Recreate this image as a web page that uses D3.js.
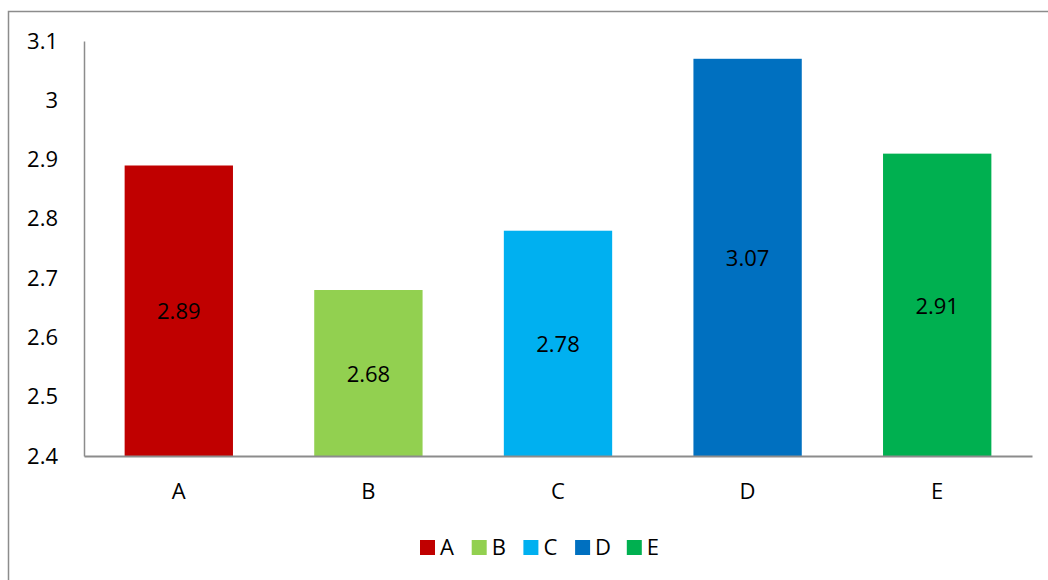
<!DOCTYPE html>
<html>
<head>
<meta charset="utf-8">
<script src="https://cdn.jsdelivr.net/npm/d3@7"></script>
<style>
  html, body { margin: 0; padding: 0; background: #fff; }
  svg { display: block; }
  text { font-family: "Open Sans", "Noto Sans", sans-serif; fill: #000; }
</style>
</head>
<body>
<div id="chart"></div>
<script>
// Chart data
const categories = ["A", "B", "C", "D", "E"];
const values = [2.89, 2.68, 2.78, 3.07, 2.91];
const colors = ["#C00000", "#92D050", "#00B0F0", "#0070C0", "#00B050"];
const yTicks = [2.4, 2.5, 2.6, 2.7, 2.8, 2.9, 3, 3.1];

const W = 1048, H = 580;
const plot = { left: 84, right: 1032, top: 41, bottom: 456 };
const fontSize = 22;
const fontFamily = "'Open Sans', 'Noto Sans', sans-serif";

const svg = d3.select("#chart").append("svg")
  .attr("width", W).attr("height", H);

// Outer chart frame (extends past the right and bottom edges)
svg.append("rect")
  .attr("x", 8.5).attr("y", 11.5)
  .attr("width", W + 20).attr("height", H + 20)
  .attr("fill", "none").attr("stroke", "#8c8c8c").attr("stroke-width", 1.5);

const x = d3.scaleBand().domain(categories)
  .range([plot.left, plot.right]).paddingInner(0.4286).paddingOuter(0.2143);
const y = d3.scaleLinear().domain([2.4, 3.1]).range([plot.bottom, plot.top]);

// Bars
svg.append("g").selectAll("rect").data(values).join("rect")
  .attr("x", (d, i) => x(categories[i]))
  .attr("y", d => y(d))
  .attr("width", x.bandwidth())
  .attr("height", d => y(2.4) - y(d))
  .attr("fill", (d, i) => colors[i]);

// Value labels, centred in each bar
svg.append("g").selectAll("text").data(values).join("text")
  .attr("x", (d, i) => x(categories[i]) + x.bandwidth() / 2)
  .attr("y", d => (y(d) + y(2.4)) / 2 + 1)
  .attr("dy", "0.35em")
  .attr("text-anchor", "middle")
  .attr("font-size", fontSize)
  .text(d => d.toFixed(2));

// Y axis
const yAxis = svg.append("g")
  .attr("transform", `translate(${plot.left},0)`)
  .call(d3.axisLeft(y).tickValues(yTicks).tickSize(0).tickPadding(26)
    .tickFormat(d => d3.format("")(+d.toFixed(1))));
yAxis.select(".domain").attr("stroke", "#8c8c8c").attr("stroke-width", 1.5);
yAxis.selectAll("text").attr("font-size", fontSize)
  .style("font-family", fontFamily).attr("fill", "#000");

// X axis
const xAxis = svg.append("g")
  .attr("transform", `translate(0,${plot.bottom})`)
  .call(d3.axisBottom(x).tickSize(0).tickPadding(27));
xAxis.select(".domain").attr("stroke", "#8c8c8c").attr("stroke-width", 2);
xAxis.selectAll("text").attr("font-size", fontSize)
  .style("font-family", fontFamily).attr("fill", "#000");

// Legend
const legend = svg.append("g").attr("transform", "translate(420,540)");
const item = legend.selectAll("g").data(categories).join("g")
  .attr("transform", (d, i) => `translate(${i * 51.7},0)`);
item.append("rect").attr("width", 15).attr("height", 15)
  .attr("fill", (d, i) => colors[i]);
item.append("text").attr("x", 20).attr("y", 7.5).attr("dy", "0.35em")
  .attr("font-size", fontSize).text(d => d);
</script>
</body>
</html>
